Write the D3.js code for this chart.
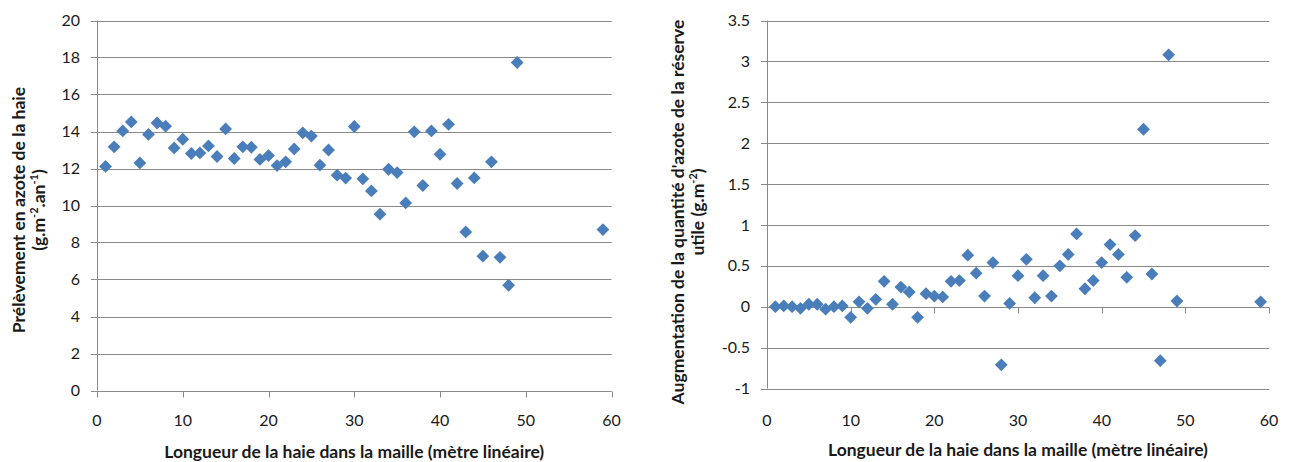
<!DOCTYPE html>
<html>
<head>
<meta charset="utf-8">
<script src="https://cdn.jsdelivr.net/npm/d3@7"></script>
<style>
  html, body { margin: 0; padding: 0; background: #fff; }
  svg { display: block; }
  text { font-family: Lato, "Open Sans", sans-serif; fill: #1a1a1a; }
</style>
</head>
<body>
<svg id="chart" width="1290" height="462"></svg>
<script>
// ---- Data ----
const xValues = [1,2,3,4,5,6,7,8,9,10,11,12,13,14,15,16,17,18,19,20,21,22,23,24,25,26,27,28,29,30,31,32,33,34,35,36,37,38,39,40,41,42,43,44,45,46,47,48,49,59];

const leftValues = [12.11,13.17,14.03,14.52,12.30,13.84,14.46,14.29,13.11,13.58,
                    12.81,12.84,13.22,12.65,14.14,12.54,13.17,13.15,12.49,12.70,
                    12.16,12.36,13.06,13.93,13.75,12.18,13.00,11.64,11.48,14.27,
                    11.44,10.79,9.53,11.96,11.78,10.14,13.98,11.08,14.03,12.77,
                    14.39,11.19,8.57,11.49,7.26,12.36,7.20,5.69,17.73,8.70];

const rightValues = [0.00,0.01,0.00,-0.02,0.03,0.03,-0.03,0.00,0.01,-0.13,
                     0.06,-0.02,0.09,0.31,0.03,0.24,0.18,-0.13,0.16,0.13,
                     0.12,0.31,0.32,0.63,0.41,0.13,0.54,-0.71,0.04,0.38,
                     0.58,0.11,0.38,0.13,0.50,0.64,0.89,0.22,0.32,0.54,
                     0.76,0.64,0.36,0.87,2.17,0.40,-0.66,3.08,0.07,0.06];

const xTicks = [0,10,20,30,40,50,60];
const leftYTicks = [0,2,4,6,8,10,12,14,16,18,20];
const rightYTicks = [-1,-0.5,0,0.5,1,1.5,2,2.5,3,3.5];
const rightYTickLabels = ["-1","-0.5","0","0.5","1","1.5","2","2.5","3","3.5"];

const xTitle = "Longueur de la haie dans la maille (mètre linéaire)";
const leftTitle1 = "Prélèvement en azote de la haie";
const rightTitle1 = "Augmentation de la quantité d'azote de la réserve";

// ---- Drawing ----
const svg = d3.select("#chart");
const gridColor = "#8a8a8a";
const markerColor = "#4a7ebb";
const tickFont = 16;
const titleFont = 17.5;
const supFont = 11;

function drawPanel(opts) {
  const g = svg.append("g");
  const x = d3.scaleLinear().domain([0, 60]).range([opts.x0, opts.x1]);
  const y = d3.scaleLinear().domain(opts.yDomain).range([opts.yBottom, opts.yTop]);

  // gridlines
  g.append("g").selectAll("line").data(opts.yTicks).join("line")
    .attr("x1", x(0) - 6).attr("x2", x(60))
    .attr("y1", d => Math.round(y(d)) + 0.5).attr("y2", d => Math.round(y(d)) + 0.5)
    .attr("stroke", gridColor).attr("stroke-width", 1);

  // y axis line
  g.append("line")
    .attr("x1", Math.round(x(0)) + 0.5).attr("x2", Math.round(x(0)) + 0.5)
    .attr("y1", y(opts.yDomain[1])).attr("y2", y(opts.yDomain[0]))
    .attr("stroke", gridColor);

  // y tick labels
  g.append("g").selectAll("text").data(opts.yTicks).join("text")
    .attr("x", x(0) - 17).attr("y", d => y(d))
    .attr("dy", "0.35em")
    .attr("text-anchor", "end")
    .attr("font-size", tickFont)
    .text((d, i) => opts.yLabels ? opts.yLabels[i] : d);

  // x axis line at y = 0 with ticks downward
  const y0 = Math.round(y(0)) + 0.5;
  g.append("line").attr("x1", x(0)).attr("x2", x(60))
    .attr("y1", y0).attr("y2", y0).attr("stroke", gridColor);
  g.append("g").selectAll("line").data(xTicks).join("line")
    .attr("x1", d => Math.round(x(d)) + 0.5).attr("x2", d => Math.round(x(d)) + 0.5)
    .attr("y1", y0).attr("y2", y0 + 6).attr("stroke", gridColor);

  // x tick labels at bottom
  g.append("g").selectAll("text").data(xTicks).join("text")
    .attr("x", d => x(d)).attr("y", opts.xLabelY)
    .attr("text-anchor", "middle")
    .attr("font-size", tickFont)
    .text(d => d);

  // x title
  g.append("text")
    .attr("x", (opts.x0 + opts.x1) / 2).attr("y", opts.xTitleY)
    .attr("text-anchor", "middle")
    .attr("font-size", titleFont).attr("font-weight", "bold")
    .text(xTitle);

  // points
  const sym = d3.symbol().type(d3.symbolSquare).size(82);
  g.append("g").selectAll("path").data(opts.values).join("path")
    .attr("d", sym)
    .attr("transform", (d, i) => `translate(${x(xValues[i])},${y(d)}) rotate(45)`)
    .attr("fill", markerColor);

  return { x, y, g };
}

const L = drawPanel({
  x0: 97, x1: 611.5, yTop: 20.5, yBottom: 390.5,
  yDomain: [0, 20], yTicks: leftYTicks, values: leftValues,
  xLabelY: 426, xTitleY: 458
});

const R = drawPanel({
  x0: 767, x1: 1269, yTop: 20.5, yBottom: 388.5,
  yDomain: [-1, 3.5], yTicks: rightYTicks, yLabels: rightYTickLabels, values: rightValues,
  xLabelY: 426, xTitleY: 456
});

// left y title
const lc = 210;
const lt = svg.append("g").attr("transform", `translate(0,${lc}) rotate(-90)`);
lt.append("text").attr("x", 0).attr("y", 25).attr("text-anchor", "middle")
  .attr("font-size", titleFont).attr("font-weight", "bold").text(leftTitle1);
const l2 = lt.append("text").attr("x", 0).attr("y", 45).attr("text-anchor", "middle")
  .attr("font-size", titleFont).attr("font-weight", "bold");
l2.append("tspan").text("(g.m");
l2.append("tspan").attr("dy", -7).attr("font-size", supFont).text("-2");
l2.append("tspan").attr("dy", 7).text(".an");
l2.append("tspan").attr("dy", -7).attr("font-size", supFont).text("-1");
l2.append("tspan").attr("dy", 7).text(")");

// right y title
const rc = 212;
const rt = svg.append("g").attr("transform", `translate(0,${rc}) rotate(-90)`);
rt.append("text").attr("x", 0).attr("y", 684).attr("text-anchor", "middle")
  .attr("font-size", titleFont).attr("font-weight", "bold").text(rightTitle1);
const r2 = rt.append("text").attr("x", 0).attr("y", 704).attr("text-anchor", "middle")
  .attr("font-size", titleFont).attr("font-weight", "bold");
r2.append("tspan").text("utile (g.m");
r2.append("tspan").attr("dy", -7).attr("font-size", supFont).text("-2");
r2.append("tspan").attr("dy", 7).text(")");
</script>
</body>
</html>
